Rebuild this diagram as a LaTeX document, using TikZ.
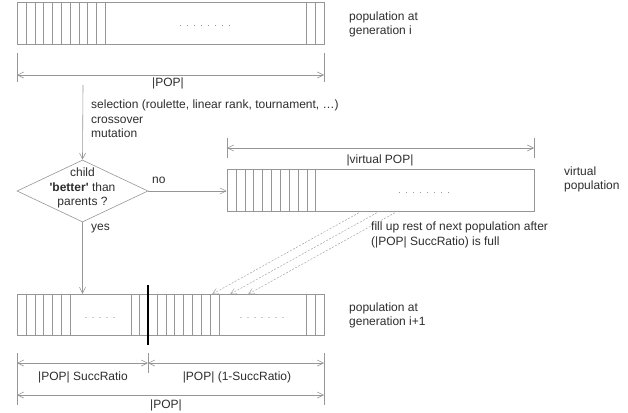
\documentclass[tikz,border=0pt]{standalone}
\usepackage{fontspec}
\setmainfont{Liberation Sans}
\usetikzlibrary{arrows.meta,shapes.geometric}
\definecolor{linegray}{RGB}{150,150,150}
\definecolor{dashgray}{RGB}{165,165,165}
\definecolor{txtgray}{RGB}{45,45,45}
\newcommand{\dd}{.\hspace{4.5pt}}
\begin{document}
\begin{tikzpicture}[x=1pt,y=-1pt,
  every node/.style={font=\fontsize{12}{14.5}\selectfont, text=txtgray},
  ln/.style={draw=linegray, line width=0.6pt},
  popbox/.style={ln, rectangle, minimum width=307pt, minimum height=41.5pt, inner sep=0pt},
  arr/.style={ln, -{Straight Barb[length=6pt,width=6pt]}},
  dimarr/.style={ln, {Straight Barb[length=6pt,width=6pt]}-{Straight Barb[length=6pt,width=6pt]}},
  dasharr/.style={draw=dashgray, line width=0.5pt, dash pattern=on 2pt off 1.5pt, -{Straight Barb[length=6pt,width=6pt]}},
  txt/.style={anchor=west, align=left, inner sep=0pt},
  dotsnode/.style={text=gray, inner sep=0pt, font=\fontsize{9}{10}\selectfont}
]
\useasboundingbox (0,0) rectangle (628,412);

% ---------- top population ----------
\node[popbox] (top) at (170.5,23.5) {};
\foreach \x in {26,35,43,52,61,70,79,87,96,105,306,315}
  \draw[ln] (\x,2.75) -- (\x,44.25);
\node[dotsnode] (topdots) at (205,26) {\dd\dd\dd\dd\dd\dd\dd.};
\node[txt] (toplabel) at (349,24.5) {population at\\generation i};

\coordinate (tdl) at (17,75);
\coordinate (tdr) at (324,75);
\draw[ln] (17,53) -- (17,82);
\draw[ln] (324,53) -- (324,82);
\draw[dimarr] (tdl) -- (tdr);
\node (toppop) at (168,83) {|POP|};

% ---------- selection & decision ----------
\coordinate (selstart) at (83,85);
\node[txt] (seltext) at (91,119) {selection (roulette, linear rank, tournament, \dots)\\crossover\\mutation};
\node[diamond, ln, minimum width=131pt, minimum height=62pt, inner sep=0pt] (dec) at (82.5,191) {};
\node[align=center, inner sep=0pt] (dectext) at (82.5,188) {child\\\textbf{\textquotesingle better\textquotesingle} than\\parents ?};
\draw[arr] (selstart) -- (dec.north);

% ---------- virtual population ----------
\node[popbox, minimum height=42pt] (virt) at (380.5,190) {};
\foreach \x in {236,245,253,262,271,280,289,298,307,315}
  \draw[ln] (\x,169) -- (\x,211);
\node[dotsnode] (virtdots) at (424,193) {\dd\dd\dd\dd\dd\dd\dd.};
\node[txt] (virtlabel) at (564,179.5) {virtual\\population};

\coordinate (vdl) at (227,148);
\coordinate (vdr) at (534,148);
\draw[ln] (227,138) -- (227,158);
\draw[ln] (534,138) -- (534,158);
\draw[dimarr] (vdl) -- (vdr);
\node (virtpop) at (380,160) {|virtual POP|};

\draw[arr] (dec.east) -- (dec.east -| virt.west);
\node[anchor=west, inner sep=0pt] (no) at (152,180) {no};

% ---------- bottom population ----------
\node[popbox] (bot) at (170.5,315) {};
\foreach \x in {26,35,43,52,61,70,131,139,157,166,174,183,192,201,210,219,306,315}
  \draw[ln] (\x,294.25) -- (\x,335.75);
\node[dotsnode] (botdots1) at (100,318) {\dd\dd\dd\dd.};
\node[dotsnode] (botdots2) at (262,318) {\dd\dd\dd\dd\dd\dd.};
\coordinate (bartop) at (148,285);
\coordinate (barbot) at (148,345);
\draw[black, line width=2.6pt] (bartop) -- (barbot);
\node[txt] (botlabel) at (349,315.5) {population at\\generation i+1};

\draw[arr] (dec.south) -- (dec.south |- bot.north);
\node[txt] (yes) at (91,229) {yes};

% dashed transfers
\coordinate (v1) at (362,211);
\coordinate (v2) at (380,211);
\coordinate (v3) at (398,211);
\coordinate (b1) at (212,294.25);
\coordinate (b2) at (230,294.25);
\coordinate (b3) at (248,294.25);
\draw[dasharr] (v1) -- (b1);
\draw[dasharr] (v2) -- (b2);
\draw[dasharr] (v3) -- (b3);
\node[txt] (filltext) at (371,235) {fill up rest of next population after\\(|POP| SuccRatio) is full};

% bottom dimensions
\draw[ln] (17,353) -- (17,405);
\draw[ln] (148,353) -- (148,373);
\draw[ln] (324,353) -- (324,405);
\coordinate (d1l) at (17,363);
\coordinate (d1m) at (148,363);
\coordinate (d1r) at (324,363);
\draw[dimarr] (d1l) -- (d1m);
\draw[dimarr] (d1m) -- (d1r);
\node (succ) at (83,377) {|POP| SuccRatio};
\node (nsucc) at (237,377) {|POP| (1-SuccRatio)};
\coordinate (d2l) at (17,395);
\coordinate (d2r) at (324,395);
\draw[dimarr] (d2l) -- (d2r);
\node (botpop) at (166,405) {|POP|};
\end{tikzpicture}
\end{document}
